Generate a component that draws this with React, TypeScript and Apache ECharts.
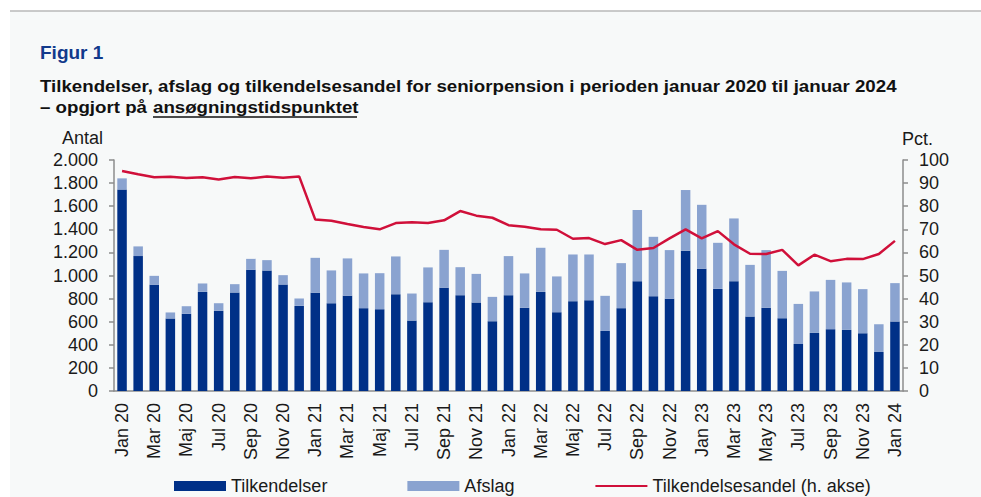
import React, { useEffect, useRef } from "react";
import * as echarts from "echarts";

const categories = [
  "Jan 20", "Feb 20", "Mar 20", "Apr 20", "Maj 20", "Jun 20", "Jul 20", "Aug 20", "Sep 20", "Okt 20", "Nov 20", "Dec 20",
  "Jan 21", "Feb 21", "Mar 21", "Apr 21", "Maj 21", "Jun 21", "Jul 21", "Aug 21", "Sep 21", "Okt 21", "Nov 21", "Dec 21",
  "Jan 22", "Feb 22", "Mar 22", "Apr 22", "Maj 22", "Jun 22", "Jul 22", "Aug 22", "Sep 22", "Okt 22", "Nov 22", "Dec 22",
  "Jan 23", "Feb 23", "Mar 23", "Apr 23", "May 23", "Jun 23", "Jul 23", "Aug 23", "Sep 23", "Okt 23", "Nov 23", "Dec 23",
  "Jan 24",
];

const tilkendelser = [
  1745, 1168, 919, 628, 668, 858, 694, 853, 1049, 1043, 922, 737,
  850, 760, 824, 717, 708, 838, 610, 769, 893, 830, 766, 604,
  830, 720, 858, 682, 778, 786, 520, 717, 951, 821, 798, 1214,
  1058, 884, 951, 645, 720, 630, 407, 503, 535, 529, 500, 338,
  602,
];

const afslag = [
  96, 84, 78, 52, 66, 73, 66, 72, 95, 90, 81, 64,
  303, 284, 324, 301, 312, 327, 234, 301, 329, 242, 248, 211,
  338, 298, 382, 310, 404, 396, 304, 390, 616, 514, 422, 526,
  554, 399, 543, 447, 500, 410, 347, 359, 427, 411, 382, 240,
  332,
];

const tilkendelsesandel = [
  95.2, 93.8, 92.5, 92.8, 92.2, 92.5, 91.6, 92.6, 92.1, 92.9, 92.3, 92.9,
  74.2, 73.7, 72.3, 71.0, 70.0, 72.7, 73.1, 72.7, 73.9, 77.9, 75.9, 75.0,
  71.8, 71.1, 70.0, 69.8, 65.9, 66.2, 63.6, 65.3, 61.1, 61.9, 66.1, 70.0,
  66.1, 69.2, 63.5, 59.4, 59.3, 61.1, 54.4, 59.0, 56.2, 57.2, 57.1, 59.3,
  65.0,
];

const FONT = "'Liberation Sans', Arial, sans-serif";
const AXIS_COLOR = "#8c8c8c";
const TEXT_COLOR = "#1a1a1a";

const fmtThousands = (v: number) => String(v).replace(/\B(?=(\d{3})+(?!\d))/g, ".");

export default function App() {
  const ref = useRef<HTMLDivElement>(null);

  useEffect(() => {
    if (!ref.current) return;
    const chart = echarts.init(ref.current, undefined, { renderer: "svg" });
    const titleStyle = { fontSize: 17, fontWeight: "bold", fontFamily: FONT, fill: "#111111", verticalAlign: "middle" };
    chart.setOption({
      animation: false,
      backgroundColor: "#f7f9f9",
      textStyle: { fontFamily: FONT },
      grid: { left: 114, right: 78, top: 160, bottom: 106, containLabel: false },
      legend: {
        left: 174,
        top: 477,
        padding: 0,
        itemWidth: 52,
        itemHeight: 10,
        itemGap: 80,
        textStyle: { fontSize: 18, color: TEXT_COLOR, fontFamily: FONT },
        data: [
          { name: "Tilkendelser", icon: "rect" },
          { name: "Afslag", icon: "rect" },
          { name: "Tilkendelsesandel (h. akse)", itemStyle: { opacity: 0 } },
        ],
      },
      xAxis: {
        type: "category",
        data: categories,
        boundaryGap: true,
        axisLine: { lineStyle: { color: AXIS_COLOR, width: 1.5 } },
        axisTick: { interval: 3, length: 5, lineStyle: { color: AXIS_COLOR, width: 1.5 } },
        axisLabel: {
          interval: 1,
          rotate: 90,
          margin: 12,
          fontSize: 18,
          color: TEXT_COLOR,
          fontFamily: FONT,
        },
      },
      yAxis: [
        {
          type: "value",
          min: 0,
          max: 2000,
          interval: 200,
          splitLine: { show: false },
          axisLine: { show: true, lineStyle: { color: AXIS_COLOR, width: 1.5 } },
          axisTick: { show: true, length: 5, lineStyle: { color: AXIS_COLOR, width: 1.5 } },
          axisLabel: {
            margin: 16,
            fontSize: 18,
            color: TEXT_COLOR,
            fontFamily: FONT,
            formatter: (v: number) => fmtThousands(v),
          },
        },
        {
          type: "value",
          min: 0,
          max: 100,
          interval: 10,
          position: "right",
          splitLine: { show: false },
          axisLine: { show: true, lineStyle: { color: AXIS_COLOR, width: 1.5 } },
          axisTick: { show: true, length: 5, lineStyle: { color: AXIS_COLOR, width: 1.5 } },
          axisLabel: { margin: 16, fontSize: 18, color: TEXT_COLOR, fontFamily: FONT },
        },
      ],
      series: [
        {
          name: "Tilkendelser",
          type: "bar",
          stack: "total",
          barWidth: "59%",
          data: tilkendelser,
          itemStyle: { color: "#003087" },
        },
        {
          name: "Afslag",
          type: "bar",
          stack: "total",
          barWidth: "59%",
          data: afslag,
          itemStyle: { color: "#8aa3d0" },
        },
        {
          name: "Tilkendelsesandel (h. akse)",
          type: "line",
          yAxisIndex: 1,
          data: tilkendelsesandel,
          symbol: "none",
          lineStyle: { color: "#d0103a", width: 2.5 },
          itemStyle: { color: "#d0103a" },
        },
      ],
      graphic: [
        { type: "rect", shape: { x: 0, y: 0, width: 981, height: 11 }, style: { fill: "#ffffff" }, silent: true },
        { type: "rect", shape: { x: 0, y: 0, width: 10, height: 497 }, style: { fill: "#ffffff" }, silent: true },
        { type: "line", shape: { x1: 10, y1: 11, x2: 981, y2: 11 }, style: { stroke: "#b9b9b9", lineWidth: 1.5 }, silent: true },
        {
          type: "text",
          x: 40,
          y: 52,
          style: { text: "Figur 1", fontSize: 19, fontWeight: "bold", fontFamily: FONT, fill: "#123a8c", verticalAlign: "middle" },
        },
        {
          type: "text",
          x: 40,
          y: 86,
          scaleX: 1.1,
          style: {
            ...titleStyle,
            text: "Tilkendelser, afslag og tilkendelsesandel for seniorpension i perioden januar 2020 til januar 2024",
          },
        },
        {
          type: "text",
          x: 40,
          y: 107,
          scaleX: 1.1,
          style: { ...titleStyle, text: "– opgjort på" },
        },
        {
          type: "text",
          x: 153,
          y: 107,
          scaleX: 1.1,
          style: { ...titleStyle, text: "ansøgningstidspunktet" },
        },
        { type: "line", shape: { x1: 153, y1: 117, x2: 357, y2: 117 }, style: { stroke: "#111111", lineWidth: 1.5 }, silent: true },
        {
          type: "text",
          x: 103,
          y: 138,
          style: { text: "Antal", fontSize: 18, fontFamily: FONT, fill: TEXT_COLOR, align: "right", verticalAlign: "middle" },
        },
        {
          type: "text",
          x: 902,
          y: 139,
          style: { text: "Pct.", fontSize: 18, fontFamily: FONT, fill: TEXT_COLOR, align: "left", verticalAlign: "middle" },
        },
      ],
    });
    return () => chart.dispose();
  }, []);

  return (
    <div
      ref={ref}
      style={{ position: "fixed", left: 0, top: 0, width: 981, height: 497 }}
    />
  );
}
